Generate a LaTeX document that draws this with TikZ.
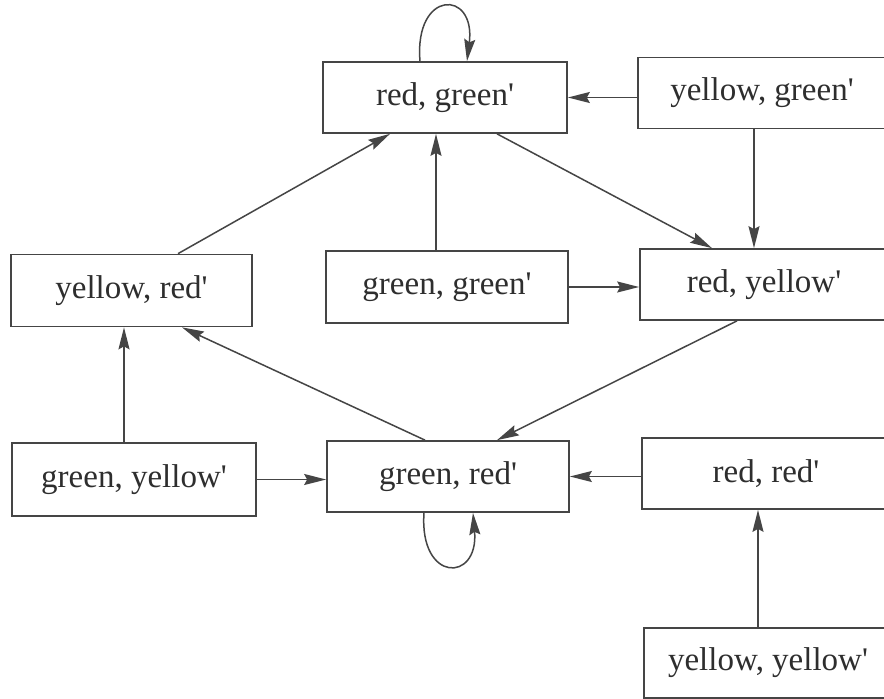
\documentclass[tikz,border=0pt]{standalone}
\usepackage{fontspec}
\setmainfont{Liberation Serif}
\usetikzlibrary{arrows.meta}
\definecolor{ink}{HTML}{454545}
\definecolor{txt}{HTML}{2E2E2E}
\newcommand{\pr}{\textquotesingle}
\tikzset{
  statebox/.style={draw=ink, line width=1.7pt, rectangle, inner sep=0pt,
    minimum width=244pt, minimum height=71pt, text=txt,
    font=\fontsize{33}{40}\selectfont},
  arr/.style={draw=ink, line width=1.5pt,
    -{Stealth[length=22pt,width=11pt,inset=3pt]}},
}
\begin{document}
\begin{tikzpicture}[x=1pt,y=-1pt]
\clip (0,0) rectangle (884,699);
\fill[white] (0,0) rectangle (884,699);

\node[statebox] (rg) at (445,97.5) {red, green\pr};
\node[statebox, minimum width=248pt] (yg) at (762,93) {yellow, green\pr};
\node[statebox, minimum width=241pt, minimum height=72pt] (yr) at (131.5,290.5) {yellow, red\pr};
\node[statebox, minimum width=242pt, minimum height=72pt] (gg) at (447,287) {green, green\pr};
\node[statebox, minimum width=248pt] (ry) at (764,284.5) {red, yellow\pr};
\node[statebox, minimum height=73pt] (gy) at (134,479.5) {green, yellow\pr};
\node[statebox, minimum width=242pt] (gr) at (448,476.5) {green, red\pr};
\node[statebox, minimum width=248pt] (rr) at (766,473.5) {red, red\pr};
\node[statebox, minimum width=248pt, minimum height=70pt] (yy) at (768,663) {yellow, yellow\pr};

% edges
\draw[arr] (yg.west |- rg.east) -- (rg.east);
\draw[arr] ([xshift=-8pt]yg.south) -- ([xshift=-8pt]yg.south |- ry.north);
\draw[arr] ([xshift=52pt]rg.south) -- ([xshift=-52pt]ry.north);
\draw[arr] ([xshift=-11pt]gg.north) -- ([xshift=-11pt]gg.north |- rg.south);
\draw[arr] ([xshift=46.5pt]yr.north) -- ([xshift=-55pt]rg.south);
\draw[arr] (gg.east) -- (gg.east -| ry.west);
\draw[arr] ([xshift=-27pt]ry.south) -- ([xshift=49pt]gr.north);
\draw[arr] ([xshift=-23pt]gr.north) -- ([xshift=50.5pt]yr.south);
\draw[arr] ([xshift=-10pt]gy.north) -- ([xshift=-10pt]gy.north |- yr.south);
\draw[arr] (gy.east) -- (gy.east -| gr.west);
\draw[arr] (rr.west |- gr.east) -- (gr.east);
\draw[arr] ([xshift=-10pt]yy.north) -- ([xshift=-10pt]yy.north |- rr.south);

% self loops
\draw[arr] ([xshift=-25pt]rg.north) .. controls ([xshift=-31pt,yshift=72pt]rg.north) and ([xshift=31pt,yshift=72pt]rg.north) .. ([xshift=22pt]rg.north);
\draw[arr] ([xshift=-24pt]gr.south) .. controls ([xshift=-29pt,yshift=-70pt]gr.south) and ([xshift=31pt,yshift=-70pt]gr.south) .. ([xshift=25pt]gr.south);
\end{tikzpicture}
\end{document}
